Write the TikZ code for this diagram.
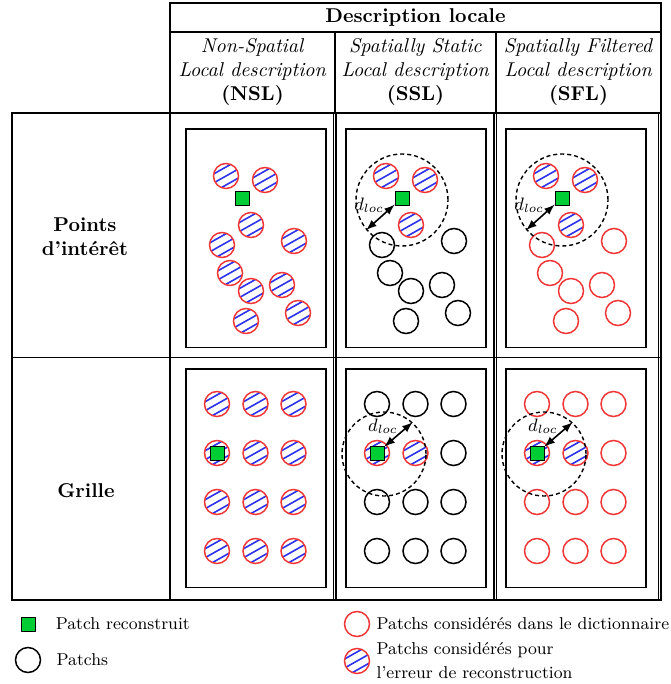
\documentclass[tikz,border=0pt]{standalone}
\usetikzlibrary{arrows,positioning}
\definecolor{patchred}{RGB}{240,55,55}
\definecolor{hatchblue}{RGB}{45,50,235}
\definecolor{recgreen}{RGB}{0,204,51}

\begin{document}
\begin{tikzpicture}[x=0.5pt,y=-0.5pt,>=latex]
    \tikzstyle{tab}=[line width=0.7pt]
    \tikzstyle{cellbox}=[line width=0.9pt]
    \tikzstyle{patch}=[circle,draw,line width=0.75pt,minimum size=12.5pt,inner sep=0pt]
    \tikzstyle{dpatch}=[patch,draw=patchred]
    \tikzstyle{epatch}=[dpatch,path picture={
        \foreach \o in {-9,0,9}
            \draw[hatchblue,line width=0.8pt] ([shift={(-16,\o+9)}]path picture bounding box.center) -- ++(32,-18);}]
    \tikzstyle{recon}=[rectangle,draw,fill=recgreen,minimum size=7pt,inner sep=0pt]
    \tikzstyle{zone}=[circle,draw,dash pattern=on 2pt off 1.5pt,line width=0.7pt,inner sep=0pt]
    \tikzstyle{dloc}=[<->,line width=0.8pt]
    \tikzstyle{legtext}=[font=\fontsize{8.6pt}{12pt}\selectfont,inner sep=0pt]

    \useasboundingbox (0,0) rectangle (670,684);

    \draw[tab] (170,3) rectangle (661,113);
    \draw[tab] (170,32) -- (661,32) (335,32) -- (335,113) (496,32) -- (496,113);
    \draw[tab] (12,113) rectangle (661,600);
    \draw[tab] (12,357.5) -- (661,357.5) (170,113) -- (170,600);
    \foreach \x in {333.5,494,658.5}
        \draw[tab] (\x,113) -- (\x,600) (\x+2.5,113) -- (\x+2.5,600);
    \foreach \x in {186,346,506}
        \foreach \y in {129,369}
            \draw[cellbox] (\x,\y) rectangle +(140,218.5);

    \node[font=\bfseries] (hdesc) at (415.5,18) {Description locale};
    \foreach \c/\x/\a/\b in {nsl/252.5/Non-Spatial/NSL,ssl/415.5/Spatially Static/SSL,sfl/578.5/Spatially Filtered/SFL}
        \node[align=center] (h\c) at (\x,71.5) {\textit{\a}\\\textit{Local description}\\\textbf{(\b)}};
    \node[align=center,font=\bfseries] (rpts) at (85,236.5) {Points\\d'intérêt};
    \node[font=\bfseries] (rgrid) at (86,491) {Grille};

    \foreach \x/\y [count=\i] in {226/176,265/180,251/225}{
        \node[epatch] (pn\i) at (\x,\y) {};
        \node[epatch] (ps\i) at (\x+160,\y) {};
        \node[epatch] (pf\i) at (\x+320,\y) {};
    }
    \foreach \x/\y [count=\i from 4] in {222/245,294/241,230/273,251/291,282/285,298/313,246/321}{
        \node[epatch] (pn\i) at (\x,\y) {};
        \node[patch] (ps\i) at (\x+160,\y) {};
        \node[dpatch] (pf\i) at (\x+320,\y) {};
    }
    \foreach \x [count=\i] in {217,255.5,293.5}
        \foreach \y [count=\j] in {404,453,502,551}{
            \def\sst{patch}\def\fst{dpatch}
            \ifnum\j=2 \ifnum\i<3 \def\sst{epatch}\def\fst{epatch}\fi\fi
            \node[epatch] (gn\i\j) at (\x,\y) {};
            \node[\sst] (gs\i\j) at (\x+160,\y) {};
            \node[\fst] (gf\i\j) at (\x+320,\y) {};
        }

    \foreach \c/\x in {n/242,s/402,f/562}
        \node[recon] (recp\c) at (\x,198) {};
    \foreach \c/\x in {n/217,s/377,f/537}
        \node[recon] (recg\c) at (\x,453) {};

    \node[zone,minimum size=46pt] (zps) at (402,200) {};
    \node[zone,minimum size=46pt] (zpf) at (562,200) {};
    \node[zone,minimum size=42pt] (zgs) at (384,454) {};
    \node[zone,minimum size=42pt] (zgf) at (544,454) {};

    \draw[dloc] (recps) -- node[pos=0.35,above left,font=\small,inner sep=0pt] {$d_{loc}$} (zps.220);
    \draw[dloc] (recpf) -- node[pos=0.35,above left,font=\small,inner sep=0pt] {$d_{loc}$} (zpf.220);
    \draw[dloc] (recgs) -- node[above left,font=\small,inner sep=0pt] {$d_{loc}$} (zgs.48);
    \draw[dloc] (recgf) -- node[above left,font=\small,inner sep=0pt] {$d_{loc}$} (zgf.48);

    \node[recon] (lrec) at (28,624) {};
    \node[legtext,right=10pt of lrec] (trec) {Patch reconstruit};
    \node[patch] (lpat) at (28,660) {};
    \node[legtext,right=7.5pt of lpat] (tpat) {Patchs};
    \node[dpatch] (ldic) at (357,624) {};
    \node[legtext,right=3pt of ldic] (tdic) {Patchs considérés dans le dictionnaire};
    \node[epatch] (lerr) at (357,661) {};
    \node[legtext,right=3pt of lerr,align=left] (terr) {Patchs considérés pour\\l'erreur de reconstruction};
\end{tikzpicture}
\end{document}
